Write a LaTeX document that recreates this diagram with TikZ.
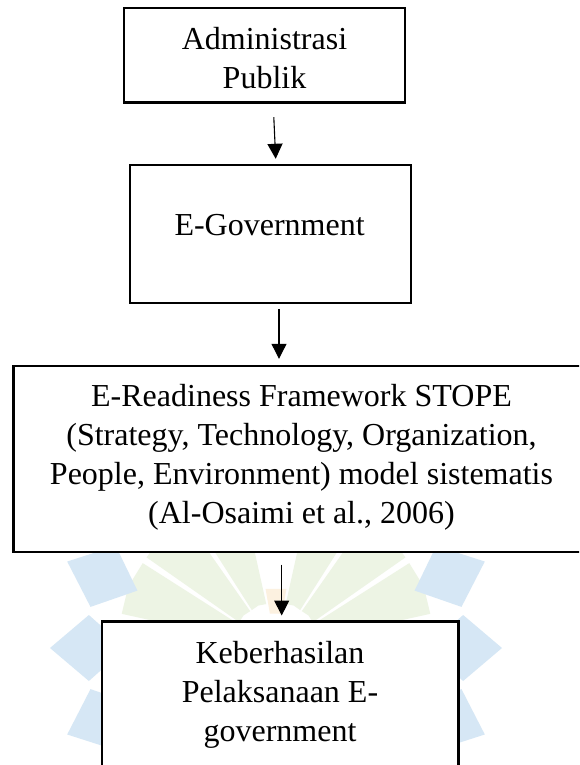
\documentclass[tikz,border=0pt]{standalone}
\usepackage{fontspec}
\setmainfont{Liberation Serif}
\usetikzlibrary{arrows.meta}
\definecolor{wmblue}{RGB}{214,231,245}
\definecolor{wmgreen}{RGB}{237,244,228}
\definecolor{wmorange}{RGB}{252,241,224}
\begin{document}
\begin{tikzpicture}[x=1pt,y=-1pt,
  box/.style={draw=black, line width=2.4pt, fill=white, inner sep=0pt},
  txt/.style={anchor=base, inner sep=0pt, font=\fontsize{32}{39}\selectfont},
  arr/.style={line width=1.1pt, -{Triangle[length=15pt,width=15pt]}},
  petal/.style={fill=wmblue, draw=none},
  wedge/.style={fill=wmgreen, draw=none}]
\clip (0,0) rectangle (579,765);
\fill[white] (0,0) rectangle (579,765);

% faint logo in the background (angles negative = upwards)
\begin{scope}[shift={(276,648)}]
  \foreach \a in {-22.5,-45,-67.5,-112.5,-135,-157.5}
    \fill[wedge] (\a-10:45) -- (\a-10:158) -- (\a:160) -- (\a+10:158)
                 -- (\a+10:45) -- (\a:46) -- cycle;
  \fill[wmorange] (-100:35) -- (-100:60) -- (-80:60) -- (-80:35) -- cycle;
  \foreach \a in {0,-22.5,22.5,180,157.5,202.5}
    \fill[petal] (\a:150) -- (\a+10:190) -- (\a:226) -- (\a-10:190) -- cycle;
\end{scope}

% boxes
\node[box, minimum width=281pt,   minimum height=94.7pt]  (adm)  at (264.5,55.35) {};
\node[box, minimum width=280.7pt, minimum height=138pt]   (egov) at (270.35,234) {};
\node[box, minimum width=575.7pt, minimum height=186.3pt] (stope) at (301.15,458.85) {};
\node[box, minimum width=356.5pt, minimum height=178.5pt] (hasil) at (280.25,710.75) {};

% texts
\node[txt] (adm-t) at (264.5,50)
  {\begin{tabular}[t]{@{}c@{}}Administrasi\\Publik\end{tabular}};
\node[txt] (egov-t) at (269.6,235) {E-Government};
\node[txt] (stope-t) at (301.5,406.7)
  {\begin{tabular}[t]{@{}c@{}}E-Readiness Framework STOPE\\
   (Strategy, Technology, Organization,\\
   People, Environment) model sistematis\\
   (Al-Osaimi et al., 2006)\end{tabular}};
\node[txt] (hasil-t) at (280,663)
  {\begin{tabular}[t]{@{}c@{}}Keberhasilan\\Pelaksanaan E-\\government\end{tabular}};

% connectors
\draw[arr] ([xshift=9.3pt,yshift=-13.3pt]adm.south) -- ([xshift=5.35pt,yshift=5pt]egov.north);
\draw[arr] ([xshift=8.65pt,yshift=-4.7pt]egov.south) -- ([xshift=-22.15pt,yshift=5.7pt]stope.north);
\draw[arr] ([xshift=-19.45pt,yshift=-11.3pt]stope.south) -- ([xshift=1.45pt,yshift=4.8pt]hasil.north);
\end{tikzpicture}
\end{document}
